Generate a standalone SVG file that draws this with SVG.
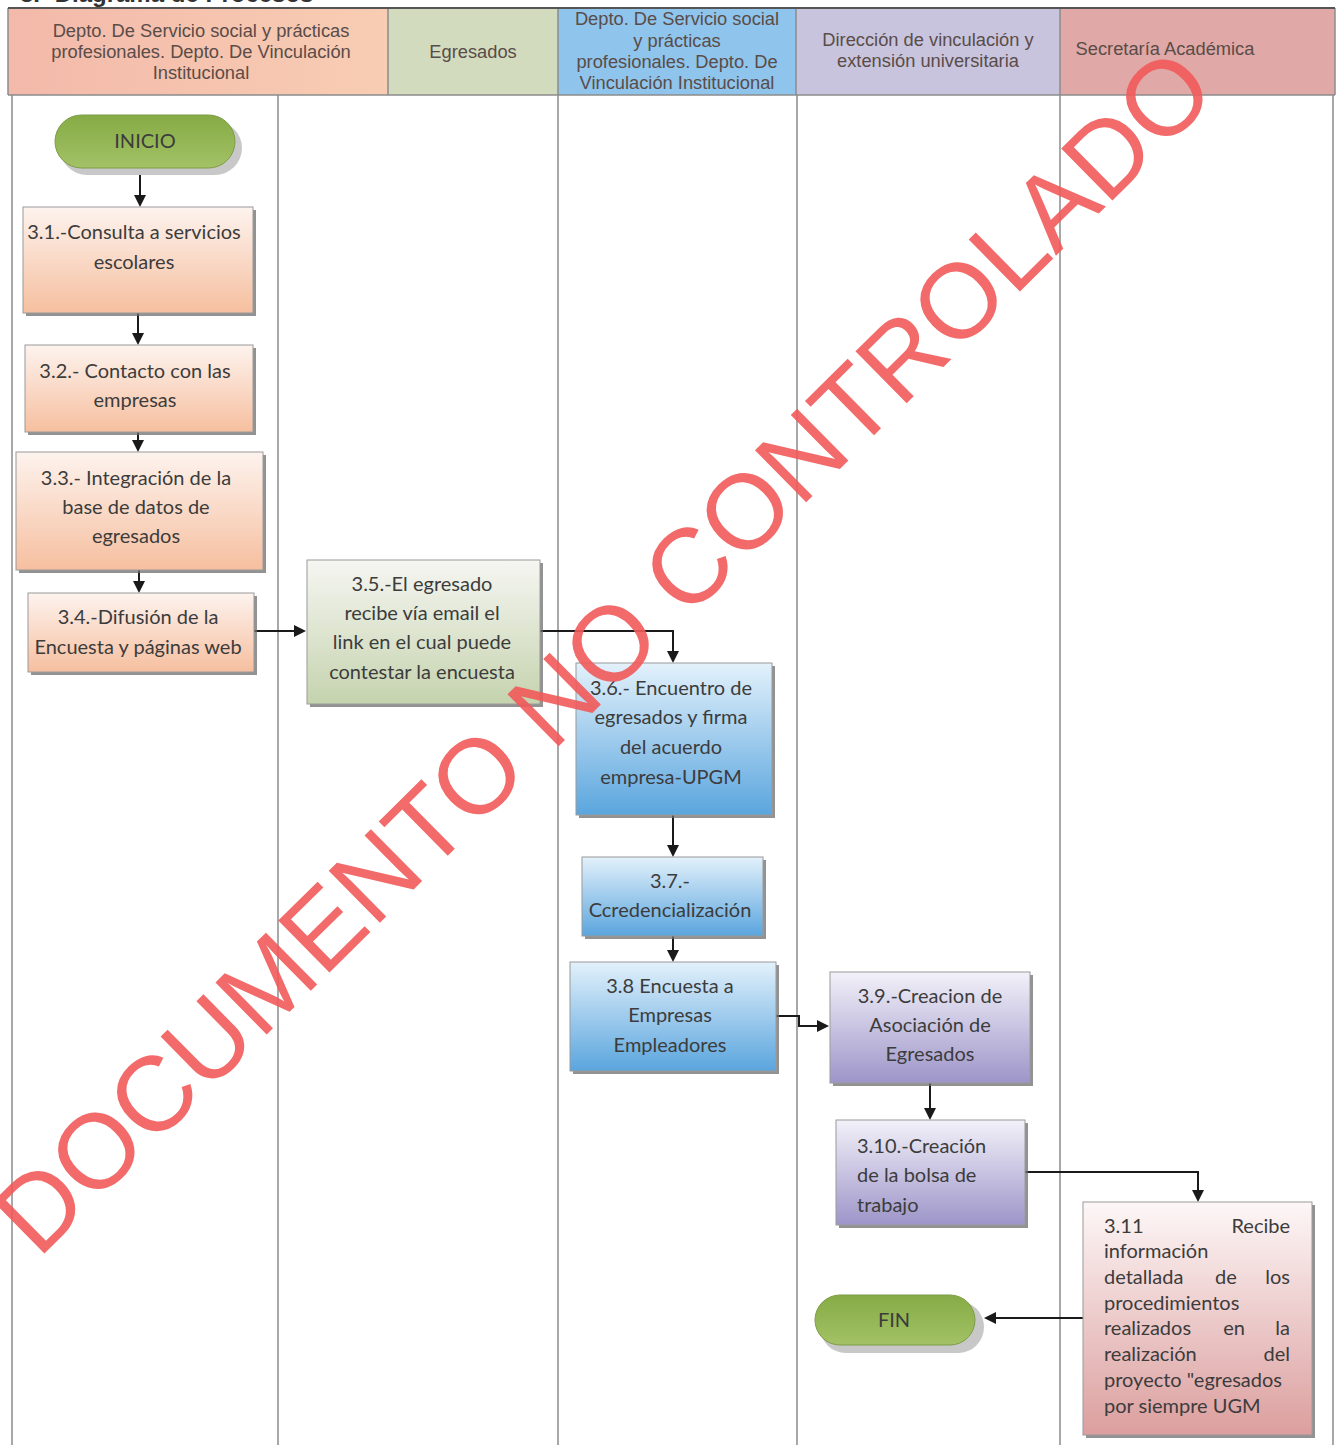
<svg xmlns="http://www.w3.org/2000/svg" width="1343" height="1445" viewBox="0 0 1343 1445">
<style>
.hd{font-family:"Liberation Sans",Arial,sans-serif;font-size:18.3px;fill:#5a4c48;text-anchor:middle}
.nt{font-family:Lato,"Liberation Sans",sans-serif;font-size:20px;fill:#3c3c3c;text-anchor:middle}
.nl{font-family:Lato,"Liberation Sans",sans-serif;font-size:20px;fill:#3c3c3c}
.ne{font-family:Lato,"Liberation Sans",sans-serif;font-size:20px;fill:#3c3c3c;text-anchor:end}
.lane{stroke:#8c8c8c;stroke-width:1.5;fill:none}
.box{stroke:#9a9a9a;stroke-width:1}
.sh{fill:#6e6e6e;opacity:0.75}
.con{stroke:#1a1a1a;stroke-width:2;fill:none}
.wm{font-family:"Liberation Sans",Arial,sans-serif;font-size:106px;fill:#f25a5a;opacity:0.9;text-anchor:middle}
</style>
<defs>
<linearGradient id="gSal" x1="0" y1="0" x2="0" y2="1"><stop offset="0" stop-color="#fdf3ee"/><stop offset="1" stop-color="#f6bf9f"/></linearGradient>
<linearGradient id="gGrn" x1="0" y1="0" x2="0" y2="1"><stop offset="0" stop-color="#f6f6f2"/><stop offset="1" stop-color="#c5d3ae"/></linearGradient>
<linearGradient id="gBlu" x1="0" y1="0" x2="0" y2="1"><stop offset="0" stop-color="#e3f1fb"/><stop offset="1" stop-color="#5aa5de"/></linearGradient>
<linearGradient id="gPur" x1="0" y1="0" x2="0" y2="1"><stop offset="0" stop-color="#f3f1f9"/><stop offset="1" stop-color="#9d95c9"/></linearGradient>
<linearGradient id="gPnk" x1="0" y1="0" x2="0" y2="1"><stop offset="0" stop-color="#fdf7f7"/><stop offset="1" stop-color="#dc9e9e"/></linearGradient>
<linearGradient id="gPill" x1="0" y1="0" x2="0" y2="1"><stop offset="0" stop-color="#86ab45"/><stop offset="1" stop-color="#a3c266"/></linearGradient>
<linearGradient id="gH1" x1="0" y1="0" x2="1" y2="0"><stop offset="0" stop-color="#f3b9aa"/><stop offset="1" stop-color="#f8cdb3"/></linearGradient>
<marker id="ah" markerWidth="12" markerHeight="12" refX="10" refY="6" orient="auto" markerUnits="userSpaceOnUse"><path d="M0,0 L12,6 L0,12 Z" fill="#1a1a1a"/></marker>
</defs>
<rect width="1343" height="1445" fill="#ffffff"/>
<text x="20" y="2" font-family="Liberation Sans,Arial,sans-serif" font-size="24" font-weight="bold" fill="#333">3.- Diagrama de Procesos</text>
<g id="lanes">
<rect x="8" y="8" width="380" height="87" fill="url(#gH1)"/>
<rect x="388" y="8" width="170" height="87" fill="#d3dbbf"/>
<rect x="558" y="8" width="238" height="87" fill="#8fc4ec"/>
<rect x="796" y="8" width="264" height="87" fill="#c8c4de"/>
<rect x="1060" y="8" width="275" height="87" fill="#e0a8a6"/>
<path class="lane" d="M8,8 H1335 M8,95 H1335 M388,8 V95 M558,8 V95 M796,8 V95 M1060,8 V95 M8,8 V95 M1335,8 V95"/>
<path d="M8,8 H1335" stroke="#555" stroke-width="2"/>
<path class="lane" d="M12,95 V1445 M278,95 V1445 M558,95 V1445 M797,95 V1445 M1060,95 V1445 M1333,95 V1445"/>
<text class="hd" x="201" y="37">Depto. De Servicio social y prácticas</text>
<text class="hd" x="201" y="58">profesionales. Depto. De Vinculación</text>
<text class="hd" x="201" y="79">Institucional</text>
<text class="hd" x="473" y="58">Egresados</text>
<text class="hd" x="677" y="25">Depto. De Servicio social</text>
<text class="hd" x="677" y="47">y prácticas</text>
<text class="hd" x="677" y="68">profesionales. Depto. De</text>
<text class="hd" x="677" y="89">Vinculación Institucional</text>
<text class="hd" x="928" y="46">Dirección de vinculación y</text>
<text class="hd" x="928" y="67">extensión universitaria</text>
<text class="hd" x="1165" y="55">Secretaría Académica</text>
</g>
<g id="connectors">
<path class="con" d="M140,168 V205" marker-end="url(#ah)"/>
<path class="con" d="M138,313 V343" marker-end="url(#ah)"/>
<path class="con" d="M138,432 V450" marker-end="url(#ah)"/>
<path class="con" d="M139,570 V591" marker-end="url(#ah)"/>
<path class="con" d="M254,631 H304" marker-end="url(#ah)"/>
<path class="con" d="M540,631 H673 V661" marker-end="url(#ah)"/>
<path class="con" d="M673,815 V855" marker-end="url(#ah)"/>
<path class="con" d="M673,936 V960" marker-end="url(#ah)"/>
<path class="con" d="M776,1016 H799 V1026 H827" marker-end="url(#ah)"/>
<path class="con" d="M930,1083 V1118" marker-end="url(#ah)"/>
<path class="con" d="M1025,1172 H1198 V1200" marker-end="url(#ah)"/>
<path class="con" d="M1083,1318 H986" marker-end="url(#ah)"/>
</g>
<g id="inicio">
<rect x="60" y="121" width="182" height="54" rx="27" fill="#c8c8c8"/>
<rect x="55" y="115" width="180" height="53" rx="26.5" fill="url(#gPill)" stroke="#7d9c45" stroke-width="1"/>
<text class="nt" x="145" y="148" font-size="18">INICIO</text>
</g>
<g id="n31">
<rect class="sh" x="26" y="210" width="230" height="106"/>
<rect class="box" x="23" y="207" width="230" height="106" fill="url(#gSal)"/>
<text class="nt" x="134" y="239">3.1.-Consulta a servicios</text>
<text class="nt" x="134" y="269">escolares</text>
</g>
<g id="n32">
<rect class="sh" x="28" y="348" width="228" height="87"/>
<rect class="box" x="25" y="345" width="228" height="87" fill="url(#gSal)"/>
<text class="nt" x="135" y="378">3.2.- Contacto con las</text>
<text class="nt" x="135" y="407">empresas</text>
</g>
<g id="n33">
<rect class="sh" x="19" y="455" width="247" height="118"/>
<rect class="box" x="16" y="452" width="247" height="118" fill="url(#gSal)"/>
<text class="nt" x="136" y="485">3.3.- Integración de la</text>
<text class="nt" x="136" y="514">base de datos de</text>
<text class="nt" x="136" y="543">egresados</text>
</g>
<g id="n34">
<rect class="sh" x="31" y="596" width="226" height="79"/>
<rect class="box" x="28" y="593" width="226" height="79" fill="url(#gSal)"/>
<text class="nt" x="138" y="624">3.4.-Difusión de la</text>
<text class="nt" x="138" y="654">Encuesta y páginas web</text>
</g>
<g id="n35">
<rect class="sh" x="310" y="563" width="233" height="144"/>
<rect class="box" x="307" y="560" width="233" height="144" fill="url(#gGrn)"/>
<text class="nt" x="422" y="591">3.5.-El egresado</text>
<text class="nt" x="422" y="620">recibe vía email el</text>
<text class="nt" x="422" y="649">link en el cual puede</text>
<text class="nt" x="422" y="679">contestar la encuesta</text>
</g>
<g id="n36">
<rect class="sh" x="579" y="666" width="196" height="152"/>
<rect class="box" x="576" y="663" width="196" height="152" fill="url(#gBlu)"/>
<text class="nt" x="671" y="695">3.6.- Encuentro de</text>
<text class="nt" x="671" y="724">egresados y firma</text>
<text class="nt" x="671" y="754">del acuerdo</text>
<text class="nt" x="671" y="784">empresa-UPGM</text>
</g>
<g id="n37">
<rect class="sh" x="585" y="860" width="181" height="79"/>
<rect class="box" x="582" y="857" width="181" height="79" fill="url(#gBlu)"/>
<text class="nt" x="670" y="888">3.7.-</text>
<text class="nt" x="670" y="917">Ccredencialización</text>
</g>
<g id="n38">
<rect class="sh" x="573" y="965" width="206" height="109"/>
<rect class="box" x="570" y="962" width="206" height="109" fill="url(#gBlu)"/>
<text class="nt" x="670" y="993">3.8 Encuesta a</text>
<text class="nt" x="670" y="1022">Empresas</text>
<text class="nt" x="670" y="1052">Empleadores</text>
</g>
<g id="n39">
<rect class="sh" x="833" y="975" width="200" height="111"/>
<rect class="box" x="830" y="972" width="200" height="111" fill="url(#gPur)"/>
<text class="nt" x="930" y="1003">3.9.-Creacion de</text>
<text class="nt" x="930" y="1032">Asociación de</text>
<text class="nt" x="930" y="1061">Egresados</text>
</g>
<g id="n310">
<rect class="sh" x="839" y="1123" width="189" height="105"/>
<rect class="box" x="836" y="1120" width="189" height="105" fill="url(#gPur)"/>
<text class="nl" x="857" y="1153">3.10.-Creación</text>
<text class="nl" x="857" y="1182">de la bolsa de</text>
<text class="nl" x="857" y="1212">trabajo</text>
</g>
<g id="n311">
<rect class="sh" x="1086" y="1205" width="229" height="233"/>
<rect class="box" x="1083" y="1202" width="229" height="233" fill="url(#gPnk)"/>
<text class="nl" x="1104" y="1233">3.11</text><text class="ne" x="1290" y="1233">Recibe</text>
<text class="nl" x="1104" y="1258">información</text>
<text class="nl" x="1104" y="1284">detallada</text><text class="nt" x="1226" y="1284">de</text><text class="ne" x="1290" y="1284">los</text>
<text class="nl" x="1104" y="1310">procedimientos</text>
<text class="nl" x="1104" y="1335">realizados</text><text class="nt" x="1234" y="1335">en</text><text class="ne" x="1290" y="1335">la</text>
<text class="nl" x="1104" y="1361">realización</text><text class="ne" x="1290" y="1361">del</text>
<text class="nl" x="1104" y="1387">proyecto "egresados</text>
<text class="nl" x="1104" y="1413">por siempre UGM</text>
</g>
<g id="fin">
<rect x="820" y="1301" width="164" height="52" rx="26" fill="#c8c8c8"/>
<rect x="815" y="1295" width="160" height="50" rx="25" fill="url(#gPill)" stroke="#7d9c45" stroke-width="1"/>
<text class="nt" x="894" y="1327" font-size="18">FIN</text>
</g>
<text class="wm" transform="translate(602,650) rotate(-44.6)" x="0" y="0" dy="0.36em">DOCUMENTO NO CONTROLADO</text>
</svg>
